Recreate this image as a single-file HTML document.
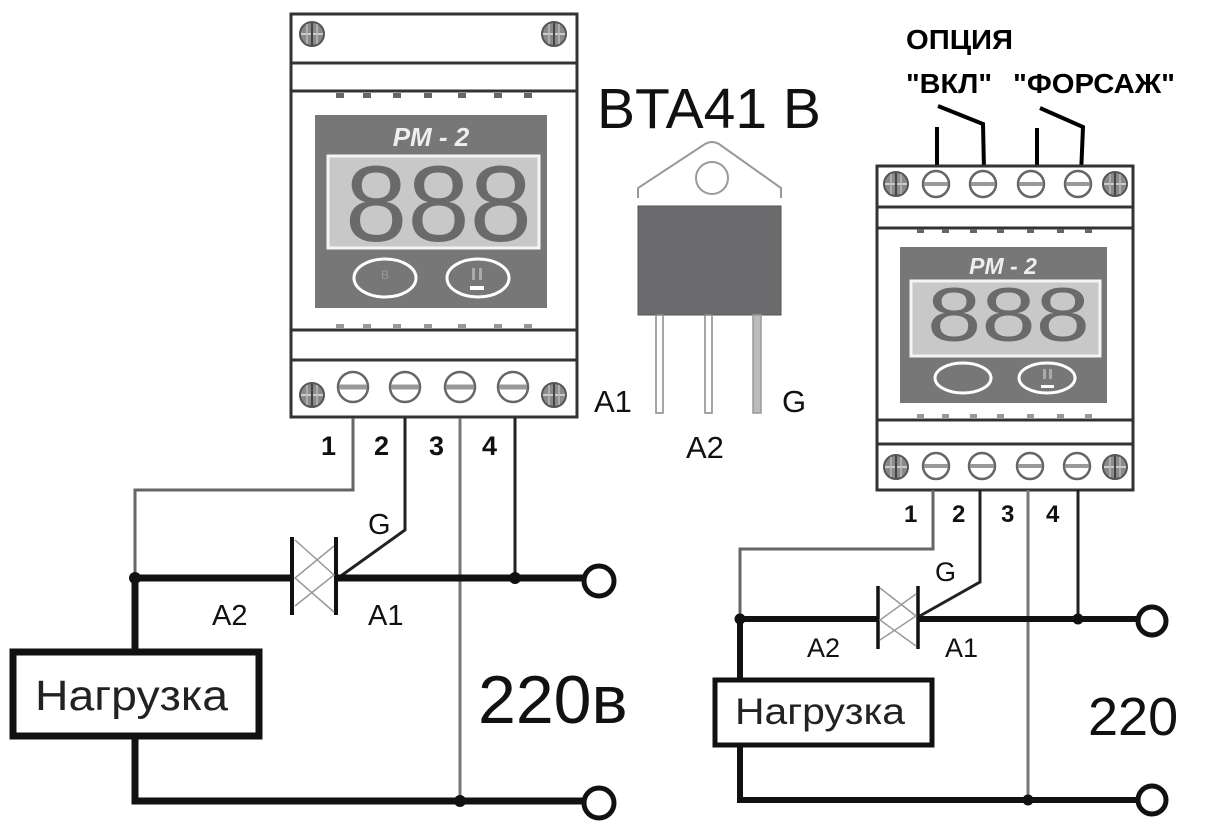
<!DOCTYPE html>
<html><head><meta charset="utf-8"><style>
html,body{margin:0;padding:0;background:#fff;}
svg{display:block;}
text{font-family:"Liberation Sans","DejaVu Sans",sans-serif;}
</style></head><body>
<svg width="1221" height="825" viewBox="0 0 1221 825" xmlns="http://www.w3.org/2000/svg">
<defs>
<g id="screw"><circle r="12" fill="#8a8a8a" stroke="#555" stroke-width="2"/><line x1="-11" y1="0" x2="11" y2="0" stroke="#ccc" stroke-width="2"/><line x1="0" y1="-11" x2="0" y2="11" stroke="#444" stroke-width="2"/><line x1="-5" y1="-10" x2="-5" y2="10" stroke="#bbb" stroke-width="1.5"/><line x1="5" y1="-10" x2="5" y2="10" stroke="#bbb" stroke-width="1.5"/></g>
<g id="term"><circle r="15" fill="#fff" stroke="#666" stroke-width="2.5"/><rect x="-14" y="-2.5" width="28" height="5" fill="#999"/></g>
<g id="terms"><circle r="13" fill="#fff" stroke="#666" stroke-width="2.5"/><rect x="-12" y="-2" width="24" height="4" fill="#999"/></g>
</defs>

<!-- LEFT DEVICE -->
<rect x="291" y="14" width="286" height="403" fill="#fff" stroke="#333" stroke-width="3"/>
<line x1="291" y1="63" x2="577" y2="63" stroke="#333" stroke-width="3"/>
<line x1="291" y1="91" x2="577" y2="91" stroke="#333" stroke-width="3"/>
<line x1="291" y1="330" x2="577" y2="330" stroke="#333" stroke-width="3"/>
<line x1="291" y1="360" x2="577" y2="360" stroke="#333" stroke-width="3"/>
<use href="#screw" x="312" y="34"/><use href="#screw" x="554" y="34"/>
<use href="#screw" x="312" y="395"/><use href="#screw" x="554" y="395"/>
<use href="#term" x="353" y="387"/><use href="#term" x="405" y="387"/><use href="#term" x="460" y="387"/><use href="#term" x="513" y="387"/>
<g fill="#666">
<rect x="336" y="93" width="8" height="5"/><rect x="363" y="93" width="8" height="5"/><rect x="393" y="93" width="8" height="5"/><rect x="424" y="93" width="8" height="5"/><rect x="458" y="93" width="8" height="5"/><rect x="494" y="93" width="8" height="5"/><rect x="524" y="93" width="8" height="5"/>
</g>
<g fill="#999">
<rect x="336" y="324" width="8" height="5"/><rect x="363" y="324" width="8" height="5"/><rect x="393" y="324" width="8" height="5"/><rect x="424" y="324" width="8" height="5"/><rect x="458" y="324" width="8" height="5"/><rect x="494" y="324" width="8" height="5"/><rect x="524" y="324" width="8" height="5"/>
</g>
<rect x="315" y="115" width="232" height="193" fill="#777"/>
<text x="431" y="146" font-size="26" font-weight="bold" font-style="italic" fill="#eee" text-anchor="middle">PM - 2</text>
<rect x="328" y="156" width="211" height="92" fill="#c8c8c8" stroke="#f4f4f4" stroke-width="3"/>
<text x="345" y="241" font-size="108" fill="#6a6a6a" textLength="187" lengthAdjust="spacingAndGlyphs">888</text>
<ellipse cx="385" cy="278" rx="31" ry="19" fill="none" stroke="#fff" stroke-width="3"/>
<ellipse cx="478" cy="278" rx="31" ry="19" fill="none" stroke="#fff" stroke-width="3"/>
<text x="385" y="279" font-size="12" fill="#999" text-anchor="middle">В</text>
<rect x="470" y="286" width="14" height="4" fill="#fff"/><rect x="472" y="268" width="3" height="12" fill="#aaa"/><rect x="479" y="268" width="3" height="12" fill="#aaa"/>

<!-- TRIAC -->
<text x="597" y="128" font-size="57" fill="#111">BTA41 B</text>
<path d="M638 198 L638 188 L705 144 Q712 140 719 144 L781 188 L781 198" fill="#fff" stroke="#999" stroke-width="2"/>
<circle cx="712" cy="178" r="16" fill="#fff" stroke="#999" stroke-width="2"/>
<rect x="638" y="206" width="143" height="109" fill="#6b6b6d" stroke="#555" stroke-width="1"/>
<rect x="656" y="315" width="7" height="98" fill="#fff" stroke="#888" stroke-width="1.5"/>
<rect x="705" y="315" width="7" height="98" fill="#fff" stroke="#888" stroke-width="1.5"/>
<rect x="753" y="315" width="8" height="98" fill="#bbb" stroke="#999" stroke-width="1.5"/>
<text x="594" y="412" font-size="31" fill="#111">A1</text>
<text x="782" y="412" font-size="31" fill="#111">G</text>
<text x="686" y="458" font-size="31" fill="#111">A2</text>

<!-- LEFT CIRCUIT -->
<g font-size="27" font-weight="bold" fill="#111">
<text x="321" y="455">1</text><text x="374" y="455">2</text><text x="429" y="455">3</text><text x="482" y="455">4</text>
</g>
<polyline points="353,418 353,490 135,490 135,580" fill="none" stroke="#666" stroke-width="3"/>
<polyline points="405,418 405,530 338,578" fill="none" stroke="#222" stroke-width="3"/>
<line x1="460" y1="418" x2="460" y2="802" stroke="#777" stroke-width="3"/>
<line x1="515" y1="418" x2="515" y2="578" stroke="#222" stroke-width="3"/>
<line x1="135" y1="578" x2="292" y2="578" stroke="#111" stroke-width="7"/>
<line x1="336" y1="578" x2="585" y2="578" stroke="#111" stroke-width="7"/>
<line x1="292" y1="537" x2="292" y2="615" stroke="#111" stroke-width="4"/>
<line x1="336" y1="537" x2="336" y2="615" stroke="#111" stroke-width="4"/>
<polyline points="295,540 334,575 295,606" fill="none" stroke="#999" stroke-width="1.5"/>
<polyline points="334,546 295,578 334,612" fill="none" stroke="#999" stroke-width="1.5"/>
<circle cx="135" cy="578" r="6" fill="#111"/><circle cx="515" cy="578" r="6" fill="#111"/>
<circle cx="599" cy="581" r="15" fill="#fff" stroke="#111" stroke-width="5"/>
<line x1="135" y1="578" x2="135" y2="652" stroke="#111" stroke-width="7"/>
<rect x="13" y="652" width="246" height="84" fill="#fff" stroke="#111" stroke-width="7"/>
<text x="35" y="710" font-size="43" fill="#222" textLength="193" lengthAdjust="spacingAndGlyphs">Нагрузка</text>
<polyline points="135,736 135,801 585,801" fill="none" stroke="#111" stroke-width="7"/>
<circle cx="460" cy="801" r="6" fill="#111"/>
<circle cx="599" cy="803" r="15" fill="#fff" stroke="#111" stroke-width="5"/>
<text x="368" y="534" font-size="29" fill="#111">G</text>
<text x="212" y="625" font-size="29" fill="#111">A2</text>
<text x="368" y="625" font-size="29" fill="#111">A1</text>
<text x="478" y="723" font-size="68" fill="#111">220в</text>

<!-- RIGHT DEVICE -->
<text x="906" y="49" font-size="28" font-weight="bold" fill="#000" textLength="107" lengthAdjust="spacingAndGlyphs">ОПЦИЯ</text>
<text x="906" y="93" font-size="28" font-weight="bold" fill="#000" textLength="86" lengthAdjust="spacingAndGlyphs">"ВКЛ"</text>
<text x="1013" y="93" font-size="28" font-weight="bold" fill="#000" textLength="162" lengthAdjust="spacingAndGlyphs">"ФОРСАЖ"</text>
<g stroke="#000" stroke-width="4" fill="none">
<line x1="937" y1="127" x2="937" y2="168"/>
<polyline points="938,106 983,124 984,170"/>
<line x1="1037" y1="128" x2="1037" y2="168"/>
<polyline points="1040,108 1083,127 1081,175"/>
</g>
<rect x="877" y="166" width="256" height="324" fill="#fff" stroke="#333" stroke-width="3"/>
<line x1="877" y1="207" x2="1133" y2="207" stroke="#333" stroke-width="3"/>
<line x1="877" y1="228" x2="1133" y2="228" stroke="#333" stroke-width="3"/>
<line x1="877" y1="420" x2="1133" y2="420" stroke="#333" stroke-width="3"/>
<line x1="877" y1="444" x2="1133" y2="444" stroke="#333" stroke-width="3"/>
<use href="#screw" x="896" y="184"/><use href="#screw" x="1115" y="184"/>
<use href="#screw" x="896" y="467"/><use href="#screw" x="1115" y="467"/>
<use href="#terms" x="936" y="184"/><use href="#terms" x="983" y="184"/><use href="#terms" x="1031" y="184"/><use href="#terms" x="1078" y="184"/>
<use href="#terms" x="936" y="466"/><use href="#terms" x="982" y="466"/><use href="#terms" x="1030" y="466"/><use href="#terms" x="1077" y="466"/>
<g fill="#666">
<rect x="917" y="229" width="7" height="4"/><rect x="942" y="229" width="7" height="4"/><rect x="970" y="229" width="7" height="4"/><rect x="997" y="229" width="7" height="4"/><rect x="1027" y="229" width="7" height="4"/><rect x="1057" y="229" width="7" height="4"/><rect x="1085" y="229" width="7" height="4"/>
</g>
<g fill="#999">
<rect x="917" y="414" width="7" height="4"/><rect x="942" y="414" width="7" height="4"/><rect x="970" y="414" width="7" height="4"/><rect x="997" y="414" width="7" height="4"/><rect x="1027" y="414" width="7" height="4"/><rect x="1057" y="414" width="7" height="4"/><rect x="1085" y="414" width="7" height="4"/>
</g>
<rect x="900" y="247" width="207" height="156" fill="#777"/>
<text x="1003" y="274" font-size="23" font-weight="bold" font-style="italic" fill="#eee" text-anchor="middle">PM - 2</text>
<rect x="911" y="281" width="189" height="75" fill="#c8c8c8" stroke="#f4f4f4" stroke-width="3"/>
<text x="927" y="341" font-size="76" fill="#6a6a6a" textLength="163" lengthAdjust="spacingAndGlyphs">888</text>
<ellipse cx="963" cy="378" rx="28" ry="15" fill="none" stroke="#fff" stroke-width="3"/>
<ellipse cx="1047" cy="378" rx="28" ry="15" fill="none" stroke="#fff" stroke-width="3"/>
<rect x="1041" y="385" width="13" height="3" fill="#fff"/><rect x="1043" y="369" width="3" height="10" fill="#aaa"/><rect x="1049" y="369" width="3" height="10" fill="#aaa"/>

<!-- RIGHT CIRCUIT -->
<g font-size="24" font-weight="bold" fill="#111">
<text x="904" y="522">1</text><text x="952" y="522">2</text><text x="1001" y="522">3</text><text x="1046" y="522">4</text>
</g>
<polyline points="933,490 933,549 740,549 740,619" fill="none" stroke="#666" stroke-width="3"/>
<polyline points="980,490 980,582 918,617" fill="none" stroke="#222" stroke-width="3"/>
<line x1="1028" y1="490" x2="1028" y2="800" stroke="#777" stroke-width="3"/>
<line x1="1078" y1="490" x2="1078" y2="619" stroke="#222" stroke-width="3"/>
<line x1="740" y1="619" x2="878" y2="619" stroke="#111" stroke-width="6"/>
<line x1="918" y1="619" x2="1140" y2="619" stroke="#111" stroke-width="6"/>
<line x1="878" y1="586" x2="878" y2="649" stroke="#111" stroke-width="3.5"/>
<line x1="918" y1="586" x2="918" y2="649" stroke="#111" stroke-width="3.5"/>
<polyline points="880,588 916,616 880,640" fill="none" stroke="#999" stroke-width="1.5"/>
<polyline points="916,594 880,620 916,646" fill="none" stroke="#999" stroke-width="1.5"/>
<circle cx="740" cy="619" r="5.5" fill="#111"/><circle cx="1078" cy="619" r="5.5" fill="#111"/>
<circle cx="1152" cy="621" r="14" fill="#fff" stroke="#111" stroke-width="5"/>
<line x1="740" y1="619" x2="740" y2="680" stroke="#111" stroke-width="6"/>
<rect x="715" y="680" width="217" height="65" fill="#fff" stroke="#111" stroke-width="5"/>
<text x="735" y="724" font-size="37" fill="#222" textLength="170" lengthAdjust="spacingAndGlyphs">Нагрузка</text>
<polyline points="740,745 740,800 1140,800" fill="none" stroke="#111" stroke-width="6"/>
<circle cx="1028" cy="800" r="5.5" fill="#111"/>
<circle cx="1152" cy="800" r="14" fill="#fff" stroke="#111" stroke-width="5"/>
<text x="935" y="581" font-size="27" fill="#111">G</text>
<text x="807" y="657" font-size="27" fill="#111">A2</text>
<text x="945" y="657" font-size="27" fill="#111">A1</text>
<text x="1088" y="735" font-size="54" fill="#111">220</text>
</svg>
</body></html>
